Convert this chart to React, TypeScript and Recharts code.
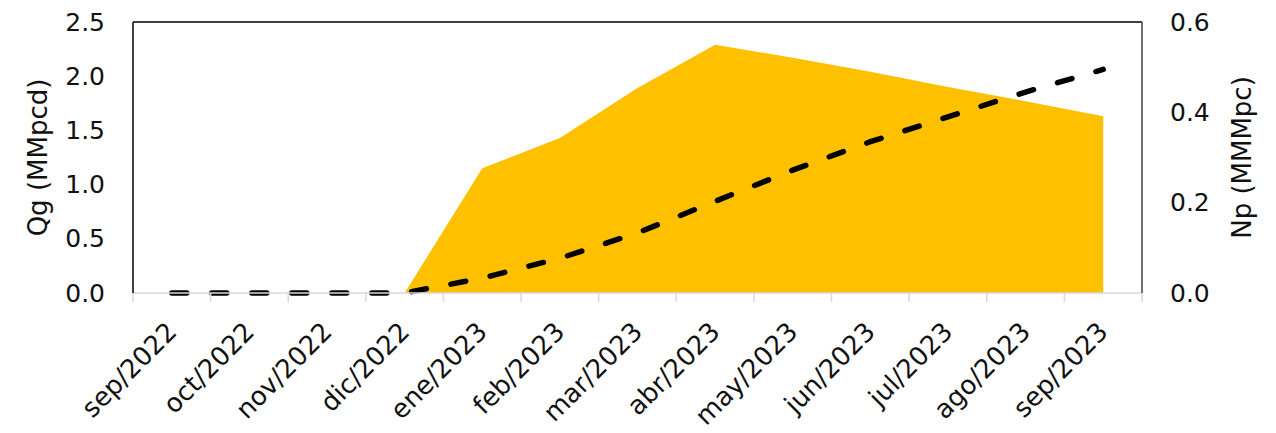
import React from 'react';
import { ComposedChart, Area, Line, XAxis, YAxis, ReferenceLine } from 'recharts';

const categories = [
  'sep/2022', 'oct/2022', 'nov/2022', 'dic/2022', 'ene/2023', 'feb/2023', 'mar/2023',
  'abr/2023', 'may/2023', 'jun/2023', 'jul/2023', 'ago/2023', 'sep/2023',
];
const qgValues = [0, 0, 0, 0, 1.15, 1.43, 1.89, 2.29, 2.17, 2.04, 1.9, 1.77, 1.63];
const npValues = [0, 0, 0, 0, 0.033, 0.077, 0.133, 0.203, 0.272, 0.335, 0.39, 0.445, 0.495];
const leftTicks = [0, 0.5, 1.0, 1.5, 2.0, 2.5];
const rightTicks = [0, 0.2, 0.4, 0.6];

const data = categories.map((c, i) => ({ idx: i, label: c, qg: qgValues[i], np: npValues[i] }));
const allXTicks: number[] = [];
for (let i = 0; i < categories.length; i++) {
  allXTicks.push(i - 0.5);
  allXTicks.push(i);
}
allXTicks.push(categories.length - 0.5);

const FONT = '"DejaVu Sans", sans-serif';
const TEXT = '#111111';

const XTick = (props: any) => {
  const { x, y, payload } = props;
  const v = payload.value;
  if (!Number.isInteger(v)) {
    return <line x1={x} y1={y} x2={x} y2={y + 9} stroke="#d9d9d9" strokeWidth={1.5} />;
  }
  const tx = x;
  const ty = y + 34;
  return (
    <text
      x={tx}
      y={ty}
      textAnchor="end"
      dominantBaseline="central"
      transform={`rotate(-45 ${tx} ${ty})`}
      fontFamily={FONT}
      fontSize={26}
      fill={TEXT}
    >
      {categories[v]}
    </text>
  );
};

const LeftTick = (props: any) => {
  const { x, y, payload } = props;
  return (
    <text x={x} y={y} textAnchor="end" dominantBaseline="central" fontFamily={FONT} fontSize={25} fill={TEXT}>
      {Number(payload.value).toFixed(1)}
    </text>
  );
};

const RightTick = (props: any) => {
  const { x, y, payload } = props;
  return (
    <text x={x} y={y} textAnchor="start" dominantBaseline="central" fontFamily={FONT} fontSize={25} fill={TEXT}>
      {Number(payload.value).toFixed(1)}
    </text>
  );
};

const LeftTitle = (props: any) => {
  const vb = props.viewBox || {};
  const cx = vb.x - 35;
  const cy = vb.y + vb.height / 2;
  return (
    <text x={cx} y={cy} textAnchor="middle" dominantBaseline="central" transform={`rotate(-90 ${cx} ${cy})`}
      fontFamily={FONT} fontSize={26} fill={TEXT}>
      Qg (MMpcd)
    </text>
  );
};

const RightTitle = (props: any) => {
  const vb = props.viewBox || {};
  const cx = vb.x + vb.width + 40;
  const cy = vb.y + vb.height / 2;
  return (
    <text x={cx} y={cy} textAnchor="middle" dominantBaseline="central" transform={`rotate(-90 ${cx} ${cy})`}
      fontFamily={FONT} fontSize={26} fill={TEXT}>
      Np (MMMpc)
    </text>
  );
};

export default function App() {
  return (
    <div style={{ position: 'absolute', left: 0, top: 0, width: 1276, height: 433, background: '#fff' }}>
      <ComposedChart width={1276} height={433} data={data} margin={{ top: 22, right: 74, bottom: 0, left: 73 }}>
        <XAxis
          xAxisId="x"
          dataKey="idx"
          type="number"
          domain={[-0.5, 12.5]}
          ticks={allXTicks}
          interval={0}
          height={140}
          tickSize={0}
          tickMargin={0}
          axisLine={{ stroke: '#d9d9d9', strokeWidth: 1.5 }}
          tickLine={false}
          tick={<XTick />}
          allowDataOverflow
        />
        <YAxis
          yAxisId="l"
          domain={[0, 2.5]}
          ticks={leftTicks}
          interval={0}
          width={60}
          tickSize={0}
          tickMargin={28}
          tickLine={false}
          axisLine={{ stroke: '#000', strokeWidth: 1.5 }}
          tick={<LeftTick />}
          label={<LeftTitle />}
        />
        <YAxis
          yAxisId="r"
          orientation="right"
          domain={[0, 0.6]}
          ticks={rightTicks}
          interval={0}
          width={60}
          tickSize={0}
          tickMargin={28}
          tickLine={false}
          axisLine={{ stroke: '#404040', strokeWidth: 1.5 }}
          tick={<RightTick />}
          label={<RightTitle />}
        />
        <Area
          xAxisId="x"
          yAxisId="l"
          type="linear"
          dataKey="qg"
          fill="#FFC000"
          fillOpacity={1}
          stroke="none"
          isAnimationActive={false}
        />
        <Line
          xAxisId="x"
          yAxisId="r"
          type="linear"
          dataKey="np"
          stroke="#000"
          strokeWidth={5.5}
          strokeDasharray="15 25"
          strokeLinecap="round"
          dot={false}
          activeDot={false}
          isAnimationActive={false}
        />
        <ReferenceLine xAxisId="x" yAxisId="l" y={2.5} stroke="#000" strokeWidth={1.5} />
      </ComposedChart>
    </div>
  );
}
